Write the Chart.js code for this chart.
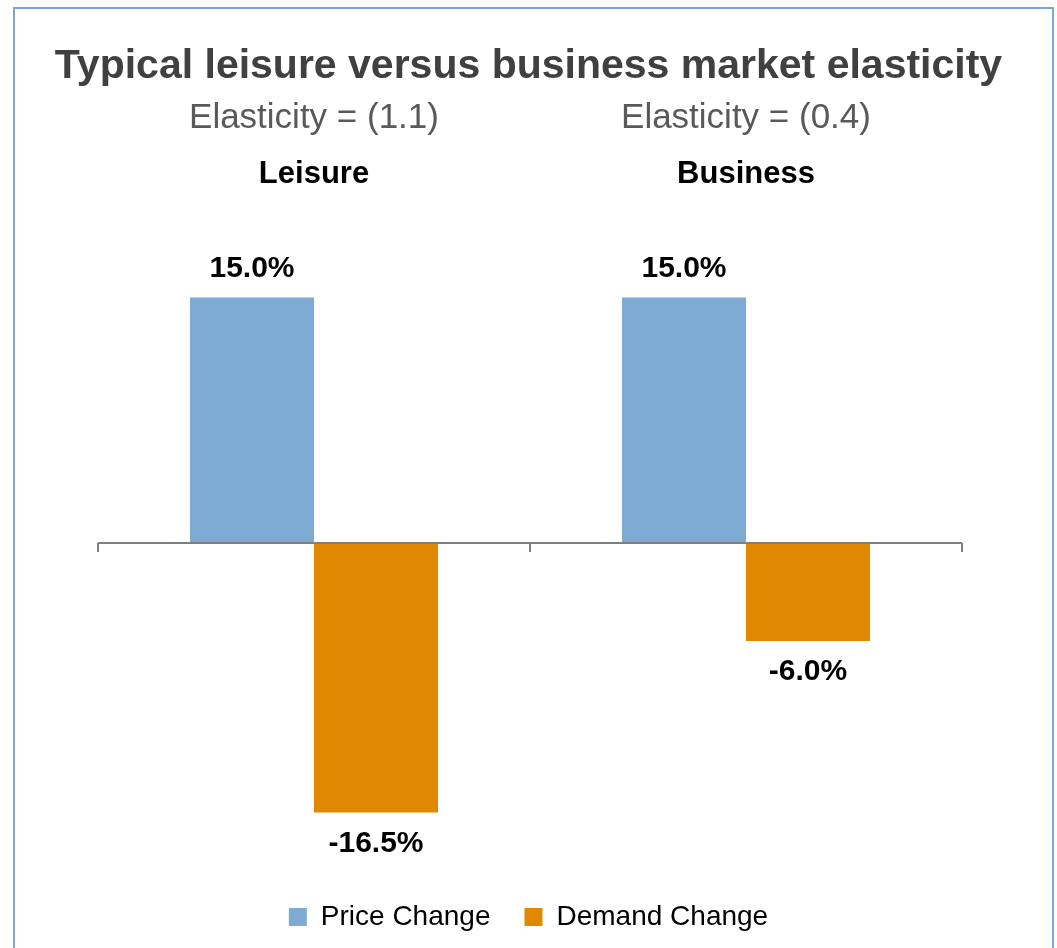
<!DOCTYPE html>
<html>
<head>
<meta charset="utf-8">
<script src="https://cdn.jsdelivr.net/npm/chart.js@4.4.1/dist/chart.umd.min.js"></script>
<style>
  html, body { margin: 0; padding: 0; background: #fff; overflow: hidden; }
  #wrap { position: relative; width: 1057px; height: 948px; }
  #frame { position: absolute; left: 13px; top: 7px; width: 1041px; height: 1000px; border: 2px solid #7ea7d6; box-sizing: border-box; }
  #c { position: absolute; left: 0; top: 0; }
</style>
</head>
<body>
<div id="wrap">
  <div id="frame"></div>
  <canvas id="c" width="1057" height="948"></canvas>
</div>
<script>
// 共通変数
var categories = ["Leisure", "Business"];
var elasticity = ["Elasticity = (1.1)", "Elasticity = (0.4)"];
var seriesnames = ["Price Change", "Demand Change"];
var pricechange = [15.0, 15.0];
var demandchange = [-16.5, -6.0];
var yrange = [-19.95, 21];

var FONT = '"Liberation Sans", Arial, sans-serif';

// 0ライン・目盛・ラベル
var extraPlugin = {
    id: 'extra',
    afterDatasetsDraw: function (chart) {
        var ctx = chart.ctx;
        var x = chart.scales.x;
        var y = chart.scales.y;
        var y0 = Math.round(y.getPixelForValue(0));
        ctx.save();
        ctx.strokeStyle = "#7f7f7f";
        ctx.lineWidth = 2;
        ctx.beginPath();
        ctx.moveTo(x.left, y0);
        ctx.lineTo(x.right, y0);
        for (var i = 0; i <= categories.length; i++) {
            var px = x.left + (x.right - x.left) * i / categories.length;
            ctx.moveTo(px, y0);
            ctx.lineTo(px, y0 + 9);
        }
        ctx.stroke();

        //データラベル
        ctx.font = "bold 30px " + FONT;
        ctx.fillStyle = "#000";
        ctx.textAlign = "center";
        ctx.textBaseline = "middle";
        chart.data.datasets.forEach(function (ds, di) {
            chart.getDatasetMeta(di).data.forEach(function (bar, i) {
                var v = ds.data[i];
                var ty = v >= 0 ? bar.y - 29 : bar.y + 31;
                ctx.fillText(v.toFixed(1) + "%", bar.x, ty);
            });
        });

        //弾力性
        ctx.font = "35px " + FONT;
        ctx.fillStyle = "#595959";
        categories.forEach(function (c, i) {
            ctx.fillText(elasticity[i], x.getPixelForValue(i), 118);
        });
        ctx.restore();
    }
};

// 軸の幅を固定（表示はしない）
function fixWidth(w) {
    return function (scale) { scale.width = w; };
}

var ctx1 = document.getElementById("c");
var chart = new Chart(ctx1, {
    type: 'bar',
    data: {
        labels: categories,
        datasets: [{
            label: seriesnames[0],
            backgroundColor: "#7eabd3",
            data: pricechange
        }, {
            label: seriesnames[1],
            backgroundColor: "#df8800",
            data: demandchange
        }]
    },
    options: {
        responsive: false,
        animation: false,
        categoryPercentage: 0.574,
        barPercentage: 1.0,
        layout: {
            padding: { left: 0, right: 0, top: 0, bottom: 7 }
        },
        scales: {
            x: {
                position: 'top',
                grid: { display: false, drawTicks: false },
                border: { display: false },
                ticks: {
                    color: "#000",
                    padding: 6,
                    font: { family: FONT, size: 31, weight: 'bold' }
                }
            },
            y: {
                position: 'left',
                min: yrange[0],
                max: yrange[1],
                grid: { display: false, drawTicks: false },
                border: { display: false },
                ticks: { display: false },
                afterFit: fixWidth(98)
            },
            y2: {
                position: 'right',
                grid: { display: false, drawTicks: false },
                border: { display: false },
                ticks: { display: false },
                afterFit: fixWidth(95)
            }
        },
        plugins: {
            title: {
                display: true,
                text: "Typical leisure versus business market elasticity",
                color: "#404040",
                font: { family: FONT, size: 41, weight: 'bold' },
                padding: { top: 42, bottom: 59 }
            },
            legend: {
                position: 'bottom',
                labels: {
                    color: "#000",
                    boxWidth: 18,
                    boxHeight: 18,
                    padding: 34,
                    font: { family: FONT, size: 28 }
                }
            },
            tooltip: { enabled: false }
        }
    },
    plugins: [extraPlugin]
});
</script>
</body>
</html>
